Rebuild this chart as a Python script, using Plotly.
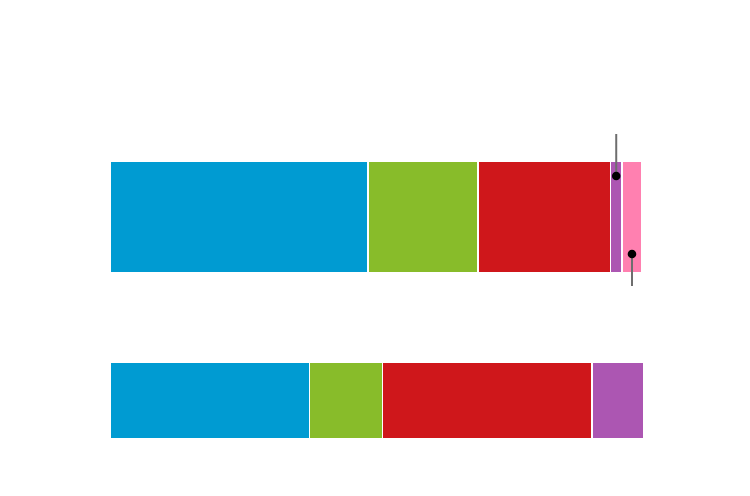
import plotly.graph_objects as go

# Data
rows = ["Sitze", "Stimmen"]          # top bar, bottom bar
row_pos = [0, 1]
parties = ["A", "B", "C", "D", "E"]
colors = ["#009bd2", "#88bc2a", "#cf171b", "#ac56b2", "#ff80b0"]
values_top = [48.3, 20.6, 24.8, 2.2, 3.7]
values_bottom = [37.4, 13.6, 39.3, 9.7, 0.0]
bar_widths = [0.603, 0.42]

fig = go.Figure()
for i, p in enumerate(parties):
    fig.add_trace(go.Bar(
        name=p,
        y=row_pos,
        x=[values_top[i], values_bottom[i]],
        orientation="h",
        width=bar_widths,
        marker=dict(color=colors[i], line=dict(color="white", width=1.5)),
        hoverinfo="x+name",
        showlegend=False,
    ))

# leader markers for the two small segments of the top bar
cum = 0
centers = []
for v in values_top:
    centers.append(cum + v / 2)
    cum += v

callouts = [  # (segment index, dot offset px, line end offset px)  positive = up
    (3, 41, 83),
    (4, -37, -69),
]
shapes = []
for idx, dot_off, end_off in callouts:
    xc = centers[idx]
    shapes.append(dict(type="line", xref="x", yref="y", ysizemode="pixel",
                       yanchor=row_pos[0], x0=xc, x1=xc, y0=dot_off, y1=end_off,
                       line=dict(color="#6e6e6e", width=2)))
    shapes.append(dict(type="circle", xref="x", yref="y",
                       xsizemode="pixel", ysizemode="pixel",
                       xanchor=xc, yanchor=row_pos[0],
                       x0=-4.3, x1=4.3, y0=dot_off - 4.3, y1=dot_off + 4.3,
                       fillcolor="black", line=dict(width=0)))

fig.update_layout(
    barmode="stack",
    width=734, height=480,
    margin=dict(l=102, r=98, t=72, b=40),
    paper_bgcolor="white", plot_bgcolor="white",
    xaxis=dict(range=[0, 100], visible=False, fixedrange=True),
    yaxis=dict(range=[1.2589, -0.7466], visible=False, fixedrange=True),
    shapes=shapes,
)
fig.write_html("out.html")
